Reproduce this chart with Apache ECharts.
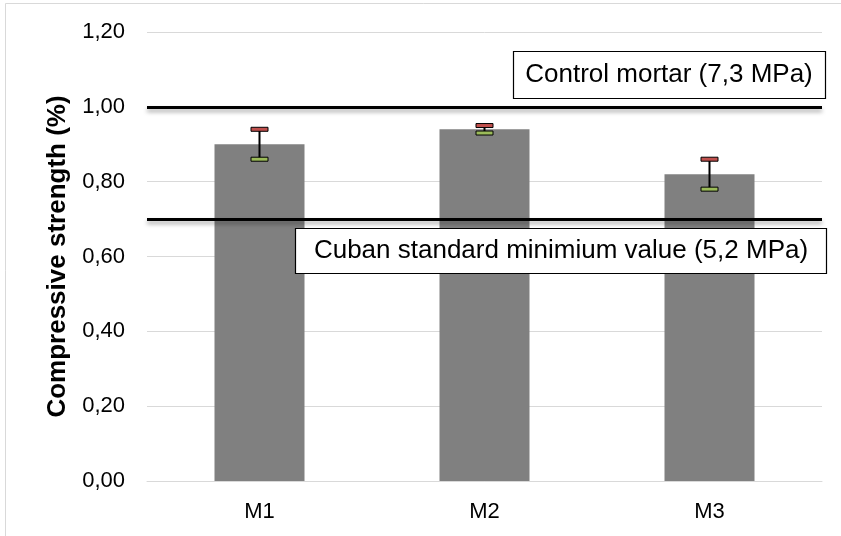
<!DOCTYPE html>
<html>
<head>
<meta charset="utf-8">
<script src="https://cdn.jsdelivr.net/npm/echarts@6/dist/echarts.min.js"></script>
<style>
  html, body { margin: 0; padding: 0; background: #fff; }
  #chart { width: 841px; height: 536px; }
</style>
</head>
<body>
<div id="chart"></div>
<script>
// mortar samples
const categories = ['M1', 'M2', 'M3'];
const strength = [0.90, 0.94, 0.82];
const errors = [0.04, 0.01, 0.04];

// reference levels
const controlLevel = 1.00;
const cubanMinLevel = 0.70;
const controlLabel = 'Control mortar (7,3 MPa)';
const cubanLabel = 'Cuban standard minimium value (5,2 MPa)';

const FONT = '"Liberation Sans", Arial, sans-serif';

const chart = echarts.init(document.getElementById('chart'));

const errorData = strength.map((v, i) => [i, v - errors[i], v + errors[i]]);

const option = {
  animation: false,
  backgroundColor: '#fff',
  grid: { left: 147, right: 19, top: 32, bottom: 55 },
  xAxis: {
    type: 'category',
    data: categories,
    axisTick: { show: false },
    axisLine: { lineStyle: { color: '#d9d9d9', width: 1 } },
    axisLabel: { color: '#000', fontSize: 22, fontFamily: FONT, margin: 20 }
  },
  yAxis: {
    type: 'value',
    min: 0,
    max: 1.2,
    interval: 0.2,
    name: 'Compressive strength (%)',
    nameLocation: 'middle',
    nameGap: 76,
    nameTextStyle: { color: '#000', fontSize: 26, fontWeight: 'bold', fontFamily: FONT },
    axisLine: { show: false },
    axisTick: { show: false },
    splitLine: { lineStyle: { color: '#d9d9d9', width: 1 } },
    axisLabel: {
      color: '#000',
      fontSize: 22,
      fontFamily: FONT,
      margin: 22,
      formatter: (v) => v.toFixed(2).replace('.', ',')
    }
  },
  graphic: [
    {
      type: 'rect', z: -1,
      shape: { x: 5.5, y: 3.5, width: 900, height: 600 },
      style: { fill: 'none', stroke: '#d9d9d9', lineWidth: 1 }
    },
    { type: 'rect', z: 100, shape: { x: 513.5, y: 51.5, width: 312, height: 47 },
      style: { fill: '#fff', stroke: '#000', lineWidth: 1.2 } },
    { type: 'text', z: 101, x: 669, y: 75,
      style: { text: controlLabel, font: '26px ' + FONT, fill: '#000', align: 'center', verticalAlign: 'middle' } },
    { type: 'rect', z: 100, shape: { x: 295.5, y: 228.5, width: 531, height: 45 },
      style: { fill: '#fff', stroke: '#000', lineWidth: 1.2 } },
    { type: 'text', z: 101, x: 561, y: 251,
      style: { text: cubanLabel, font: '26px ' + FONT, fill: '#000', align: 'center', verticalAlign: 'middle' } }
  ],
  series: [
    {
      name: 'Compressive strength',
      type: 'bar',
      barWidth: '40%',
      data: strength,
      itemStyle: { color: '#808080' },
      markLine: {
        silent: true,
        symbol: 'none',
        label: { show: false },
        lineStyle: {
          color: '#000',
          width: 3,
          type: 'solid',
          shadowColor: 'rgba(0,0,0,0.35)',
          shadowBlur: 4,
          shadowOffsetY: 3
        },
        data: [{ yAxis: controlLevel }, { yAxis: cubanMinLevel }]
      }
    },
    {
      name: 'error',
      type: 'custom',
      z: 10,
      data: errorData,
      renderItem: (params, api) => {
        const idx = api.value(0);
        const lo = api.coord([idx, api.value(1)]);
        const hi = api.coord([idx, api.value(2)]);
        const capW = 17, capH = 4;
        return {
          type: 'group',
          children: [
            { type: 'line', shape: { x1: hi[0], y1: hi[1], x2: lo[0], y2: lo[1] },
              style: { stroke: '#000', lineWidth: 2 } },
            { type: 'rect', shape: { x: hi[0] - capW / 2, y: hi[1] - capH / 2, width: capW, height: capH },
              style: { fill: '#c0504d', stroke: '#000', lineWidth: 1 } },
            { type: 'rect', shape: { x: lo[0] - capW / 2, y: lo[1] - capH / 2, width: capW, height: capH },
              style: { fill: '#9bbb59', stroke: '#000', lineWidth: 1 } }
          ]
        };
      }
    }
  ]
};

chart.setOption(option);
</script>
</body>
</html>
